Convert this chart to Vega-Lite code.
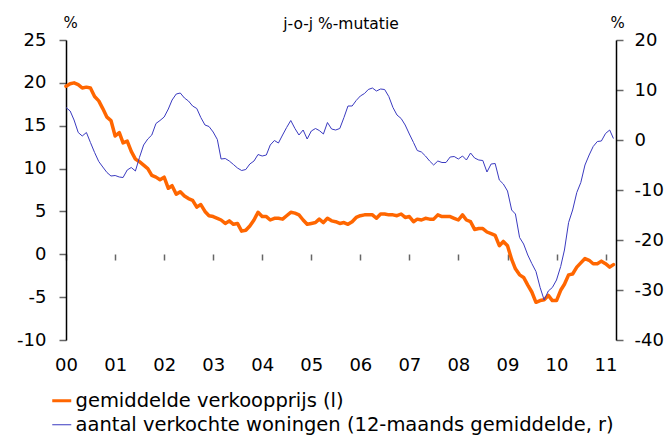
{
  "$schema": "https://vega.github.io/schema/vega-lite/v6.json",
  "width": 550,
  "height": 300,
  "autosize": {"type": "none"},
  "padding": {"left": 66, "top": 40, "right": 55, "bottom": 95},
  "background": "white",
  "config": {
    "font": "DejaVu Sans",
    "view": {"stroke": null},
    "axis": {
      "labelFont": "DejaVu Sans",
      "labelFontSize": 18,
      "labelColor": "black",
      "domainColor": "black",
      "domainWidth": 1.5,
      "tickColor": "#666666",
      "tickWidth": 1.5,
      "grid": false,
      "titleFont": "DejaVu Sans",
      "titleFontWeight": "normal",
      "titleColor": "black"
    },
    "legend": {"labelFont": "DejaVu Sans"}
  },
  "title": {
    "text": "j-o-j %-mutatie",
    "fontSize": 15.5,
    "fontWeight": "normal",
    "font": "DejaVu Sans",
    "color": "black",
    "anchor": "middle",
    "offset": -17
  },
  "datasets": {
    "prijs": [
      {"d":"2000-01-01","v":19.6},{"d":"2000-02-01","v":19.9},{"d":"2000-03-01","v":20.0},{"d":"2000-04-01","v":19.8},{"d":"2000-05-01","v":19.4},{"d":"2000-06-01","v":19.5},{"d":"2000-07-01","v":19.4},{"d":"2000-08-01","v":18.4},{"d":"2000-09-01","v":17.9},{"d":"2000-10-01","v":17.0},{"d":"2000-11-01","v":16.0},{"d":"2000-12-01","v":15.6},
      {"d":"2001-01-01","v":13.8},{"d":"2001-02-01","v":14.2},{"d":"2001-03-01","v":13.0},{"d":"2001-04-01","v":13.2},{"d":"2001-05-01","v":12.0},{"d":"2001-06-01","v":11.1},{"d":"2001-07-01","v":10.8},{"d":"2001-08-01","v":10.4},{"d":"2001-09-01","v":10.0},{"d":"2001-10-01","v":9.2},{"d":"2001-11-01","v":9.0},{"d":"2001-12-01","v":8.7},
      {"d":"2002-01-01","v":9.0},{"d":"2002-02-01","v":7.7},{"d":"2002-03-01","v":8.0},{"d":"2002-04-01","v":7.0},{"d":"2002-05-01","v":7.3},{"d":"2002-06-01","v":6.8},{"d":"2002-07-01","v":6.5},{"d":"2002-08-01","v":6.3},{"d":"2002-09-01","v":5.5},{"d":"2002-10-01","v":5.8},{"d":"2002-11-01","v":5.0},{"d":"2002-12-01","v":4.5},
      {"d":"2003-01-01","v":4.4},{"d":"2003-02-01","v":4.2},{"d":"2003-03-01","v":4.0},{"d":"2003-04-01","v":3.6},{"d":"2003-05-01","v":3.9},{"d":"2003-06-01","v":3.5},{"d":"2003-07-01","v":3.6},{"d":"2003-08-01","v":2.7},{"d":"2003-09-01","v":2.8},{"d":"2003-10-01","v":3.3},{"d":"2003-11-01","v":4.0},{"d":"2003-12-01","v":4.9},
      {"d":"2004-01-01","v":4.4},{"d":"2004-02-01","v":4.4},{"d":"2004-03-01","v":4.0},{"d":"2004-04-01","v":4.2},{"d":"2004-05-01","v":4.2},{"d":"2004-06-01","v":4.1},{"d":"2004-07-01","v":4.5},{"d":"2004-08-01","v":4.9},{"d":"2004-09-01","v":4.8},{"d":"2004-10-01","v":4.6},{"d":"2004-11-01","v":4.0},{"d":"2004-12-01","v":3.5},
      {"d":"2005-01-01","v":3.6},{"d":"2005-02-01","v":3.7},{"d":"2005-03-01","v":4.1},{"d":"2005-04-01","v":3.7},{"d":"2005-05-01","v":4.2},{"d":"2005-06-01","v":3.9},{"d":"2005-07-01","v":3.8},{"d":"2005-08-01","v":3.6},{"d":"2005-09-01","v":3.7},{"d":"2005-10-01","v":3.5},{"d":"2005-11-01","v":3.8},{"d":"2005-12-01","v":4.3},
      {"d":"2006-01-01","v":4.5},{"d":"2006-02-01","v":4.6},{"d":"2006-03-01","v":4.6},{"d":"2006-04-01","v":4.6},{"d":"2006-05-01","v":4.2},{"d":"2006-06-01","v":4.7},{"d":"2006-07-01","v":4.7},{"d":"2006-08-01","v":4.6},{"d":"2006-09-01","v":4.6},{"d":"2006-10-01","v":4.5},{"d":"2006-11-01","v":4.7},{"d":"2006-12-01","v":4.3},
      {"d":"2007-01-01","v":4.4},{"d":"2007-02-01","v":3.8},{"d":"2007-03-01","v":4.1},{"d":"2007-04-01","v":4.0},{"d":"2007-05-01","v":4.2},{"d":"2007-06-01","v":4.1},{"d":"2007-07-01","v":4.1},{"d":"2007-08-01","v":4.6},{"d":"2007-09-01","v":4.4},{"d":"2007-10-01","v":4.4},{"d":"2007-11-01","v":4.4},{"d":"2007-12-01","v":4.2},
      {"d":"2008-01-01","v":4.0},{"d":"2008-02-01","v":4.6},{"d":"2008-03-01","v":4.0},{"d":"2008-04-01","v":3.8},{"d":"2008-05-01","v":2.9},{"d":"2008-06-01","v":3.0},{"d":"2008-07-01","v":3.0},{"d":"2008-08-01","v":2.6},{"d":"2008-09-01","v":2.4},{"d":"2008-10-01","v":2.2},{"d":"2008-11-01","v":1.0},{"d":"2008-12-01","v":1.5},
      {"d":"2009-01-01","v":1.0},{"d":"2009-02-01","v":-0.6},{"d":"2009-03-01","v":-1.7},{"d":"2009-04-01","v":-2.4},{"d":"2009-05-01","v":-2.7},{"d":"2009-06-01","v":-3.6},{"d":"2009-07-01","v":-4.4},{"d":"2009-08-01","v":-5.6},{"d":"2009-09-01","v":-5.4},{"d":"2009-10-01","v":-5.3},{"d":"2009-11-01","v":-4.8},{"d":"2009-12-01","v":-5.4},
      {"d":"2010-01-01","v":-5.4},{"d":"2010-02-01","v":-4.2},{"d":"2010-03-01","v":-3.5},{"d":"2010-04-01","v":-2.4},{"d":"2010-05-01","v":-2.3},{"d":"2010-06-01","v":-1.5},{"d":"2010-07-01","v":-1.0},{"d":"2010-08-01","v":-0.5},{"d":"2010-09-01","v":-0.7},{"d":"2010-10-01","v":-1.1},{"d":"2010-11-01","v":-1.1},{"d":"2010-12-01","v":-0.8},
      {"d":"2011-01-01","v":-1.1},{"d":"2011-02-01","v":-1.5},{"d":"2011-03-01","v":-1.2}
    ],
    "aantal": [
      {"d":"2000-01-01","v":6.5},{"d":"2000-02-01","v":5.8},{"d":"2000-03-01","v":4.0},{"d":"2000-04-01","v":1.5},{"d":"2000-05-01","v":0.8},{"d":"2000-06-01","v":1.5},{"d":"2000-07-01","v":-0.5},{"d":"2000-08-01","v":-2.5},{"d":"2000-09-01","v":-4.3},{"d":"2000-10-01","v":-5.4},{"d":"2000-11-01","v":-6.5},{"d":"2000-12-01","v":-7.2},
      {"d":"2001-01-01","v":-7.1},{"d":"2001-02-01","v":-7.4},{"d":"2001-03-01","v":-7.5},{"d":"2001-04-01","v":-6.0},{"d":"2001-05-01","v":-5.5},{"d":"2001-06-01","v":-6.2},{"d":"2001-07-01","v":-3.5},{"d":"2001-08-01","v":-1.0},{"d":"2001-09-01","v":0.2},{"d":"2001-10-01","v":1.0},{"d":"2001-11-01","v":3.3},{"d":"2001-12-01","v":3.9},
      {"d":"2002-01-01","v":4.6},{"d":"2002-02-01","v":6.2},{"d":"2002-03-01","v":8.0},{"d":"2002-04-01","v":9.2},{"d":"2002-05-01","v":9.4},{"d":"2002-06-01","v":8.4},{"d":"2002-07-01","v":7.8},{"d":"2002-08-01","v":6.8},{"d":"2002-09-01","v":6.3},{"d":"2002-10-01","v":4.5},{"d":"2002-11-01","v":3.0},{"d":"2002-12-01","v":2.7},
      {"d":"2003-01-01","v":1.6},{"d":"2003-02-01","v":0.1},{"d":"2003-03-01","v":-3.8},{"d":"2003-04-01","v":-3.7},{"d":"2003-05-01","v":-4.2},{"d":"2003-06-01","v":-4.9},{"d":"2003-07-01","v":-5.6},{"d":"2003-08-01","v":-6.1},{"d":"2003-09-01","v":-5.9},{"d":"2003-10-01","v":-4.8},{"d":"2003-11-01","v":-4.2},{"d":"2003-12-01","v":-2.9},
      {"d":"2004-01-01","v":-3.2},{"d":"2004-02-01","v":-3.0},{"d":"2004-03-01","v":-1.0},{"d":"2004-04-01","v":-0.1},{"d":"2004-05-01","v":-0.6},{"d":"2004-06-01","v":1.0},{"d":"2004-07-01","v":2.5},{"d":"2004-08-01","v":3.9},{"d":"2004-09-01","v":2.3},{"d":"2004-10-01","v":1.0},{"d":"2004-11-01","v":2.0},{"d":"2004-12-01","v":0.2},
      {"d":"2005-01-01","v":1.8},{"d":"2005-02-01","v":2.3},{"d":"2005-03-01","v":1.9},{"d":"2005-04-01","v":1.2},{"d":"2005-05-01","v":3.5},{"d":"2005-06-01","v":2.2},{"d":"2005-07-01","v":2.0},{"d":"2005-08-01","v":2.3},{"d":"2005-09-01","v":4.5},{"d":"2005-10-01","v":6.8},{"d":"2005-11-01","v":6.8},{"d":"2005-12-01","v":7.9},
      {"d":"2006-01-01","v":8.8},{"d":"2006-02-01","v":9.3},{"d":"2006-03-01","v":10.1},{"d":"2006-04-01","v":10.4},{"d":"2006-05-01","v":9.8},{"d":"2006-06-01","v":10.2},{"d":"2006-07-01","v":10.1},{"d":"2006-08-01","v":8.7},{"d":"2006-09-01","v":6.5},{"d":"2006-10-01","v":5.0},{"d":"2006-11-01","v":4.3},{"d":"2006-12-01","v":3.0},
      {"d":"2007-01-01","v":1.2},{"d":"2007-02-01","v":-0.5},{"d":"2007-03-01","v":-2.1},{"d":"2007-04-01","v":-2.4},{"d":"2007-05-01","v":-3.2},{"d":"2007-06-01","v":-4.2},{"d":"2007-07-01","v":-5.0},{"d":"2007-08-01","v":-4.2},{"d":"2007-09-01","v":-4.5},{"d":"2007-10-01","v":-4.5},{"d":"2007-11-01","v":-3.4},{"d":"2007-12-01","v":-3.3},
      {"d":"2008-01-01","v":-3.8},{"d":"2008-02-01","v":-3.2},{"d":"2008-03-01","v":-4.0},{"d":"2008-04-01","v":-2.6},{"d":"2008-05-01","v":-3.6},{"d":"2008-06-01","v":-4.0},{"d":"2008-07-01","v":-4.1},{"d":"2008-08-01","v":-6.4},{"d":"2008-09-01","v":-4.8},{"d":"2008-10-01","v":-4.7},{"d":"2008-11-01","v":-8.0},{"d":"2008-12-01","v":-8.8},
      {"d":"2009-01-01","v":-10.2},{"d":"2009-02-01","v":-14.0},{"d":"2009-03-01","v":-14.8},{"d":"2009-04-01","v":-19.5},{"d":"2009-05-01","v":-20.8},{"d":"2009-06-01","v":-23.0},{"d":"2009-07-01","v":-24.7},{"d":"2009-08-01","v":-26.3},{"d":"2009-09-01","v":-29.5},{"d":"2009-10-01","v":-32.0},{"d":"2009-11-01","v":-30.2},{"d":"2009-12-01","v":-29.5},
      {"d":"2010-01-01","v":-28.0},{"d":"2010-02-01","v":-25.3},{"d":"2010-03-01","v":-22.0},{"d":"2010-04-01","v":-16.5},{"d":"2010-05-01","v":-14.0},{"d":"2010-06-01","v":-10.5},{"d":"2010-07-01","v":-8.5},{"d":"2010-08-01","v":-5.0},{"d":"2010-09-01","v":-3.0},{"d":"2010-10-01","v":-1.3},{"d":"2010-11-01","v":-0.3},{"d":"2010-12-01","v":-0.2},
      {"d":"2011-01-01","v":1.3},{"d":"2011-02-01","v":2.0},{"d":"2011-03-01","v":0.3}
    ]
  },
  "layer": [
    {
      "layer": [
        {
          "data": {"name": "prijs"},
          "mark": {"type": "line", "strokeWidth": 3.5, "strokeJoin": "round", "strokeCap": "round"},
          "encoding": {
            "x": {
              "field": "d", "type": "temporal",
              "scale": {"domain": ["2000-01-01", "2011-03-20"], "nice": false},
              "axis": {"orient": "bottom", "format": "%y", "title": null, "domain": false, "ticks": false, "labelPadding": 16, "labelAlign": "center", "labelDx": 2, "tickCount": {"interval": "year", "step": 1}, "labelFlush": false, "labelOverlap": false}
            },
            "y": {
              "field": "v", "type": "quantitative",
              "scale": {"domain": [-10, 25], "nice": false, "zero": false},
              "axis": {"orient": "left", "values": [-10, -5, 0, 5, 10, 15, 20, 25], "labelExpr": "datum.value < 0 ? '-' + abs(datum.value) : '' + datum.value", "tickSize": 7, "labelPadding": 13, "title": "%", "titleAngle": 0, "titleX": 4, "titleY": -13, "titleAlign": "center", "titleBaseline": "alphabetic", "titleFontSize": 15}
            },
            "color": {
              "datum": "gemiddelde verkoopprijs (l)",
              "type": "nominal",
              "scale": {"domain": ["gemiddelde verkoopprijs (l)", "aantal verkochte woningen (12-maands gemiddelde, r)"], "range": ["#FF6600", "#3A3AC0"]},
              "legend": {
                "orient": "none", "legendX": -14, "legendY": 351, "title": null,
                "symbolType": "stroke", "symbolSize": 361, "symbolStrokeWidth": 3,
                "labelFontSize": 19.5, "labelColor": "black", "labelLimit": 700, "labelOffset": 4, "rowPadding": 3,
                "encode": {"symbols": {"update": {"strokeWidth": {"signal": "datum.value === 'aantal verkochte woningen (12-maands gemiddelde, r)' ? 1 : 3"}}}}
              }
            }
          }
        },
        {
          "mark": {"type": "rule", "color": "black", "strokeWidth": 1.5},
          "encoding": {"y": {"datum": 0}}
        }
      ]
    },
    {
      "data": {"name": "aantal"},
      "mark": {"type": "line", "strokeWidth": 1},
      "encoding": {
        "x": {
          "field": "d", "type": "temporal",
          "axis": {"orient": "bottom", "offset": -86, "title": null, "domain": false, "labels": false, "ticks": true, "tickSize": 6, "tickCount": {"interval": "year", "step": 1}}
        },
        "y": {
          "field": "v", "type": "quantitative",
          "scale": {"domain": [-40, 20], "nice": false, "zero": false},
          "axis": {"orient": "right", "values": [-40, -30, -20, -10, 0, 10, 20], "labelExpr": "datum.value < 0 ? '-' + abs(datum.value) : '' + datum.value", "tickSize": 7, "labelPadding": 11, "title": "%", "titleAngle": 0, "titleX": 1, "titleY": -13, "titleAlign": "center", "titleBaseline": "alphabetic", "titleFontSize": 15}
        },
        "color": {"datum": "aantal verkochte woningen (12-maands gemiddelde, r)", "type": "nominal"}
      }
    }
  ],
  "resolve": {"scale": {"y": "independent"}, "axis": {"x": "independent", "y": "independent"}}
}
